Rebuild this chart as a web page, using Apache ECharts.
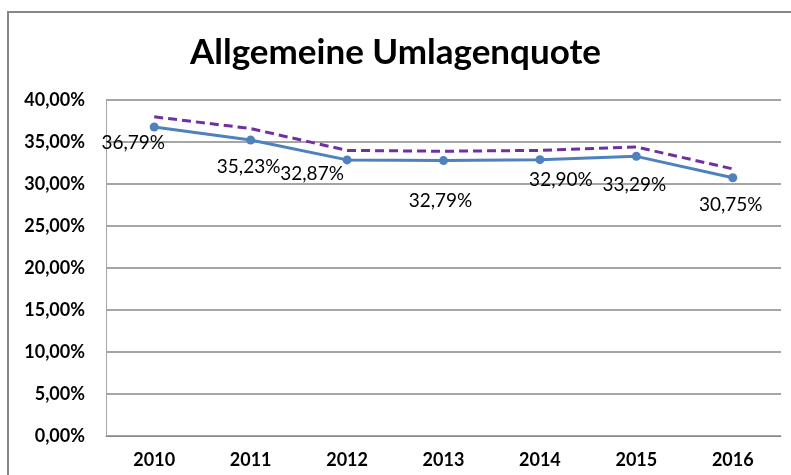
<!DOCTYPE html>
<html>
<head>
<meta charset="utf-8">
<script src="https://cdn.jsdelivr.net/npm/echarts@6/dist/echarts.min.js"></script>
<style>
  html, body { margin: 0; padding: 0; background: #fff; }
  #main { width: 791px; height: 475px; }
</style>
</head>
<body>
<div id="main"></div>
<script>
// Daten
var years = ['2010', '2011', '2012', '2013', '2014', '2015', '2016'];
var umlagenquote = [36.79, 35.23, 32.87, 32.79, 32.90, 33.29, 30.75];
var vergleich = [38.0, 36.6, 34.0, 33.9, 34.0, 34.4, 31.8];
var yTicks = [0, 5, 10, 15, 20, 25, 30, 35, 40];

// Versatz der Datenbeschriftungen (wie im Excel-Original verschoben)
var labelOffsets = [[-21, 16], [-2, 27], [-35, 14], [-3, 40], [21, 20], [-2, 29], [-2, 27]];

function pct(v) {
  return v.toFixed(2).replace('.', ',') + '%';
}

var myChart = echarts.init(document.getElementById('main'));
myChart.setOption({
  animation: false,
  textStyle: { fontFamily: 'Lato' },
  title: {
    text: 'Allgemeine Umlagenquote',
    left: 'center',
    top: 30,
    textStyle: { fontFamily: 'Lato', fontWeight: 'bold', fontSize: 35, color: '#000' }
  },
  graphic: [{
    type: 'rect',
    shape: { x: 8, y: 12, width: 800, height: 500 },
    style: { fill: 'none', stroke: '#878787', lineWidth: 2 },
    silent: true
  }],
  grid: { left: 106, top: 100, right: 10, bottom: 39 },
  xAxis: {
    type: 'category',
    data: years,
    boundaryGap: true,
    axisLine: { lineStyle: { color: '#878787', width: 1 } },
    axisTick: { show: false },
    axisLabel: { color: '#000', fontWeight: 'bold', fontSize: 18, margin: 15 }
  },
  yAxis: {
    type: 'value',
    min: yTicks[0],
    max: yTicks[yTicks.length - 1],
    interval: 5,
    axisLine: { show: true, lineStyle: { color: '#a6a6a6', width: 1 } },
    axisTick: { show: false },
    splitLine: { lineStyle: { color: '#878787', width: 1.5 } },
    axisLabel: {
      color: '#000', fontWeight: 'bold', fontSize: 18, margin: 21,
      formatter: function (v) { return pct(v); }
    }
  },
  series: [{
    name: 'Vergleich',
    type: 'line',
    data: vergleich,
    showSymbol: false,
    symbol: 'none',
    z: 2,
    lineStyle: { color: '#7030A0', width: 3, type: [9, 5] }
  }, {
    name: 'Allgemeine Umlagenquote',
    type: 'line',
    z: 3,
    data: umlagenquote.map(function (v, i) {
      return {
        value: v,
        label: { offset: labelOffsets[i] }
      };
    }),
    symbol: 'circle',
    symbolSize: 9,
    itemStyle: { color: '#4F81BD' },
    lineStyle: { color: '#4F81BD', width: 3 },
    label: {
      show: true,
      position: 'inside',
      align: 'center',
      verticalAlign: 'middle',
      color: '#000',
      fontSize: 19,
      formatter: function (p) { return pct(p.value); }
    }
  }]
});
</script>
</body>
</html>
